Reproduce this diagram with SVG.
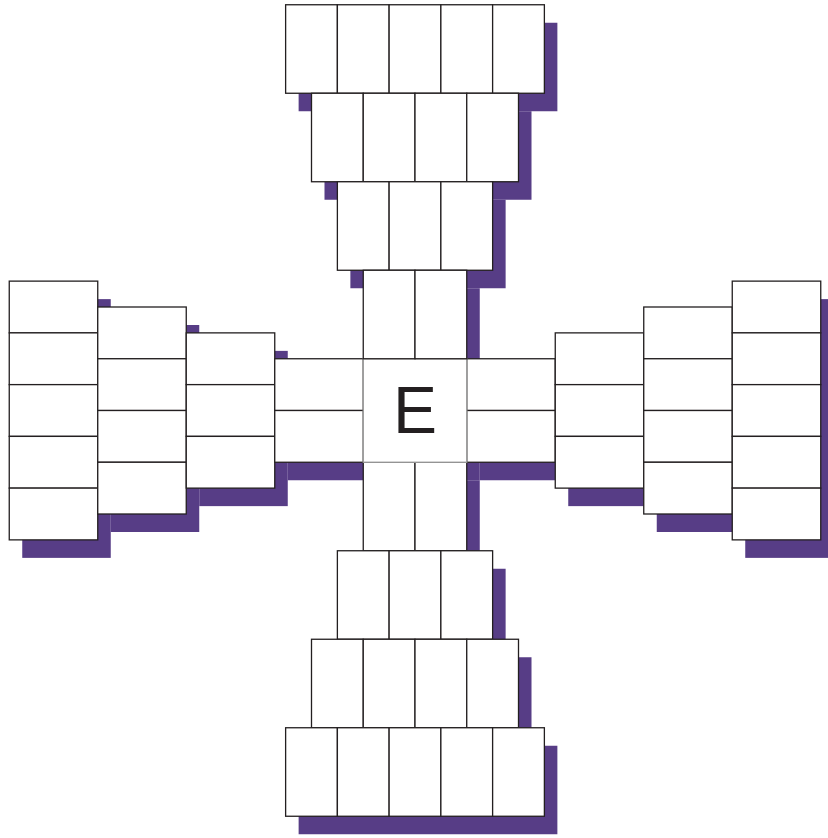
<svg xmlns="http://www.w3.org/2000/svg" width="828" height="838" viewBox="0 0 828 838">
<style>
.c{fill:#fff;stroke:#231f20;stroke-width:1.3}
.s{fill:#573d86}
.t{font-family:"Liberation Sans",Arial,sans-serif;font-size:66px;fill:#231f20;text-anchor:middle}
</style>
<g id="shadows">
<rect class="s" x="298.625" y="22.75" width="258.75" height="88.5"/>
<rect class="s" x="324.5" y="111.25" width="207" height="88.5"/>
<rect class="s" x="350.375" y="199.75" width="155.25" height="88.5"/>
<rect class="s" x="376.25" y="288.25" width="103.5" height="88.5"/>
<rect class="s" x="376.25" y="376.75" width="103.5" height="103.5"/>
<rect class="s" x="376.25" y="480.25" width="103.5" height="88.5"/>
<rect class="s" x="350.375" y="568.75" width="155.25" height="88.5"/>
<rect class="s" x="324.5" y="657.25" width="207" height="88.5"/>
<rect class="s" x="298.625" y="745.75" width="258.75" height="88.5"/>
<rect class="s" x="22.25" y="299.125" width="88.5" height="258.75"/>
<rect class="s" x="110.75" y="325" width="88.5" height="207"/>
<rect class="s" x="199.25" y="350.875" width="88.5" height="155.25"/>
<rect class="s" x="287.75" y="376.75" width="88.5" height="103.5"/>
<rect class="s" x="479.75" y="376.75" width="88.5" height="103.5"/>
<rect class="s" x="568.25" y="350.875" width="88.5" height="155.25"/>
<rect class="s" x="656.75" y="325" width="88.5" height="207"/>
<rect class="s" x="745.25" y="299.125" width="88.5" height="258.75"/>
</g>
<g id="connectors"/>
<!-- bottom arm -->
<g id="b4a"><rect class="c" x="363.25" y="462.25" width="51.75" height="88.5"/></g>
<g id="b4b"><rect class="c" x="415" y="462.25" width="51.75" height="88.5"/></g>
<g id="b3a"><rect class="c" x="337.375" y="550.75" width="51.75" height="88.5"/></g>
<g id="b3b"><rect class="c" x="389.125" y="550.75" width="51.75" height="88.5"/></g>
<g id="b3c"><rect class="c" x="440.875" y="550.75" width="51.75" height="88.5"/></g>
<g id="b2a"><rect class="c" x="311.5" y="639.25" width="51.75" height="88.5"/></g>
<g id="b2b"><rect class="c" x="363.25" y="639.25" width="51.75" height="88.5"/></g>
<g id="b2c"><rect class="c" x="415" y="639.25" width="51.75" height="88.5"/></g>
<g id="b2d"><rect class="c" x="466.75" y="639.25" width="51.75" height="88.5"/></g>
<g id="b1a"><rect class="c" x="285.625" y="727.75" width="51.75" height="88.5"/></g>
<g id="b1b"><rect class="c" x="337.375" y="727.75" width="51.75" height="88.5"/></g>
<g id="b1c"><rect class="c" x="389.125" y="727.75" width="51.75" height="88.5"/></g>
<g id="b1d"><rect class="c" x="440.875" y="727.75" width="51.75" height="88.5"/></g>
<g id="b1e"><rect class="c" x="492.625" y="727.75" width="51.75" height="88.5"/></g>
<!-- left arm -->
<g id="l1a"><rect class="c" x="9.25" y="281.125" width="88.5" height="51.75"/></g>
<g id="l1b"><rect class="c" x="9.25" y="332.875" width="88.5" height="51.75"/></g>
<g id="l1c"><rect class="c" x="9.25" y="384.625" width="88.5" height="51.75"/></g>
<g id="l1d"><rect class="c" x="9.25" y="436.375" width="88.5" height="51.75"/></g>
<g id="l1e"><rect class="c" x="9.25" y="488.125" width="88.5" height="51.75"/></g>
<g id="l2a"><rect class="c" x="97.75" y="307" width="88.5" height="51.75"/></g>
<g id="l2b"><rect class="c" x="97.75" y="358.75" width="88.5" height="51.75"/></g>
<g id="l2c"><rect class="c" x="97.75" y="410.5" width="88.5" height="51.75"/></g>
<g id="l2d"><rect class="c" x="97.75" y="462.25" width="88.5" height="51.75"/></g>
<g id="l3a"><rect class="c" x="186.25" y="332.875" width="88.5" height="51.75"/></g>
<g id="l3b"><rect class="c" x="186.25" y="384.625" width="88.5" height="51.75"/></g>
<g id="l3c"><rect class="c" x="186.25" y="436.375" width="88.5" height="51.75"/></g>
<g id="l4a"><rect class="c" x="274.75" y="358.75" width="88.5" height="51.75"/></g>
<g id="l4b"><rect class="c" x="274.75" y="410.5" width="88.5" height="51.75"/></g>
<!-- right arm -->
<g id="r4a"><rect class="c" x="466.75" y="358.75" width="88.5" height="51.75"/></g>
<g id="r4b"><rect class="c" x="466.75" y="410.5" width="88.5" height="51.75"/></g>
<g id="r3a"><rect class="c" x="555.25" y="332.875" width="88.5" height="51.75"/></g>
<g id="r3b"><rect class="c" x="555.25" y="384.625" width="88.5" height="51.75"/></g>
<g id="r3c"><rect class="c" x="555.25" y="436.375" width="88.5" height="51.75"/></g>
<g id="r2a"><rect class="c" x="643.75" y="307" width="88.5" height="51.75"/></g>
<g id="r2b"><rect class="c" x="643.75" y="358.75" width="88.5" height="51.75"/></g>
<g id="r2c"><rect class="c" x="643.75" y="410.5" width="88.5" height="51.75"/></g>
<g id="r2d"><rect class="c" x="643.75" y="462.25" width="88.5" height="51.75"/></g>
<g id="r1a"><rect class="c" x="732.25" y="281.125" width="88.5" height="51.75"/></g>
<g id="r1b"><rect class="c" x="732.25" y="332.875" width="88.5" height="51.75"/></g>
<g id="r1c"><rect class="c" x="732.25" y="384.625" width="88.5" height="51.75"/></g>
<g id="r1d"><rect class="c" x="732.25" y="436.375" width="88.5" height="51.75"/></g>
<g id="r1e"><rect class="c" x="732.25" y="488.125" width="88.5" height="51.75"/></g>
<!-- center -->
<g id="center"><rect class="c" x="363.25" y="358.75" width="103.5" height="103.5" style="stroke:#9a9a9a"/><text class="t" x="415" y="432.5">E</text></g>
<!-- top arm -->
<g id="t1a"><rect class="c" x="285.625" y="4.75" width="51.75" height="88.5"/></g>
<g id="t1b"><rect class="c" x="337.375" y="4.75" width="51.75" height="88.5"/></g>
<g id="t1c"><rect class="c" x="389.125" y="4.75" width="51.75" height="88.5"/></g>
<g id="t1d"><rect class="c" x="440.875" y="4.75" width="51.75" height="88.5"/></g>
<g id="t1e"><rect class="c" x="492.625" y="4.75" width="51.75" height="88.5"/></g>
<g id="t2a"><rect class="c" x="311.5" y="93.25" width="51.75" height="88.5"/></g>
<g id="t2b"><rect class="c" x="363.25" y="93.25" width="51.75" height="88.5"/></g>
<g id="t2c"><rect class="c" x="415" y="93.25" width="51.75" height="88.5"/></g>
<g id="t2d"><rect class="c" x="466.75" y="93.25" width="51.75" height="88.5"/></g>
<g id="t3a"><rect class="c" x="337.375" y="181.75" width="51.75" height="88.5"/></g>
<g id="t3b"><rect class="c" x="389.125" y="181.75" width="51.75" height="88.5"/></g>
<g id="t3c"><rect class="c" x="440.875" y="181.75" width="51.75" height="88.5"/></g>
<g id="t4a"><rect class="c" x="363.25" y="270.25" width="51.75" height="88.5"/></g>
<g id="t4b"><rect class="c" x="415" y="270.25" width="51.75" height="88.5"/></g>
</svg>
